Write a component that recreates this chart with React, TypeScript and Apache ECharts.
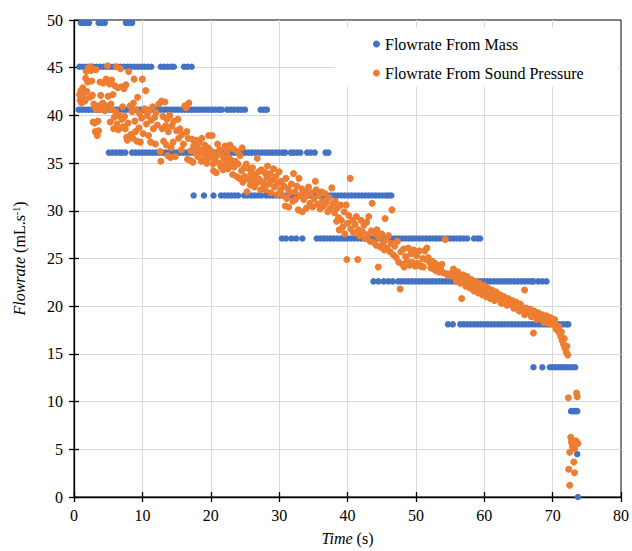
import React, { useEffect, useRef } from 'react';
import * as echarts from 'echarts';

const FONT = "'Liberation Serif', 'Times New Roman', serif";

const seriesNames = ['Flowrate From Mass', 'Flowrate From Sound Pressure'];

// Quantised levels of the mass-derived flowrate (mL/s)
const massLevels = [49.7, 45.1, 40.6, 36.1, 31.6, 27.1, 22.6, 18.1, 13.6, 9.0, 4.5, 0];

// Times (s) at which each level was recorded
const massTimes: number[][] = [
  [1.0, 1.4, 1.8, 2.2, 3.6, 4.0, 4.5, 7.6, 8.0, 8.5],
  [0.8, 1.3, 1.8, 2.3, 2.8, 3.3, 3.8, 4.3, 4.8, 5.3, 5.8, 6.3, 6.8, 7.3, 7.8, 8.3, 8.8, 9.3, 9.8, 10.3, 10.8, 11.3,
    12.7, 13.2, 13.7, 14.2, 14.6, 16.1, 16.6, 17.2],
  [0.7, 1.2, 1.7, 2.2, 2.7, 3.2, 3.7, 4.2, 4.7, 5.2, 5.7, 6.2, 6.7, 7.2, 7.7, 8.2, 8.7, 9.2, 9.7, 10.2, 10.7, 11.2,
    11.7, 12.2, 12.7, 13.2, 13.7, 14.2, 14.7, 15.2, 15.7, 16.2, 16.7, 17.2, 17.7, 18.2, 18.7, 19.2, 19.7, 20.2, 20.7,
    21.2, 21.6, 22.4, 22.9, 23.4, 24.0, 24.5, 25.0, 27.3, 27.8, 28.2],
  [5.1, 5.6, 6.1, 6.6, 7.0, 7.5, 8.5, 9.0, 9.5, 10.0, 10.5, 11.0, 11.5, 12.0, 12.5, 13.0, 13.5, 14.0, 14.5, 15.0,
    15.5, 16.0, 16.5, 17.0, 17.5, 18.0, 18.5, 19.0, 19.5, 20.0, 20.5, 21.0, 21.5, 22.0, 22.5, 23.0, 23.5, 24.0, 24.5,
    25.0, 25.5, 26.0, 26.5, 27.0, 27.5, 28.0, 28.5, 29.0, 29.5, 30.0, 30.5, 30.9, 31.7, 32.1, 32.6, 33.1, 34.1, 34.6,
    35.2, 36.8, 37.2],
  [17.5, 19.0, 20.4, 21.5, 22.0, 22.5, 23.0, 23.5, 24.0, 24.9, 25.4, 25.9, 26.4, 26.9, 27.4, 28.1, 28.6, 29.1, 29.6,
    30.1, 30.6, 31.1, 31.6, 32.1, 32.6, 33.1, 33.6, 34.1, 34.6, 35.1, 35.6, 36.1, 36.6, 37.1, 37.6, 38.1, 38.6, 39.1,
    39.6, 40.1, 40.6, 41.1, 41.6, 42.1, 42.6, 43.1, 43.6, 44.1, 44.6, 45.1, 45.6, 46.0, 46.4],
  [30.4, 31.0, 31.8, 32.5, 33.4, 35.5, 36.0, 36.5, 37.0, 37.5, 38.0, 38.5, 39.0, 39.5, 40.0, 40.5, 41.0, 41.5, 42.0,
    42.5, 43.0, 43.5, 44.0, 44.5, 45.0, 45.5, 46.0, 46.5, 47.0, 47.5, 48.0, 48.5, 49.0, 49.5, 50.0, 50.5, 51.0, 51.5,
    52.0, 52.5, 53.0, 53.5, 54.0, 54.5, 55.0, 55.5, 56.0, 56.5, 57.0, 57.5, 58.5, 59.0, 59.4],
  [43.8, 44.5, 45.3, 46.0, 46.6, 47.4, 47.9, 48.4, 48.9, 49.4, 49.9, 50.4, 50.9, 51.4, 51.9, 52.4, 52.9, 53.4, 53.9,
    54.4, 54.9, 55.4, 55.9, 56.4, 56.9, 57.4, 57.9, 58.4, 58.9, 59.4, 59.9, 60.4, 60.9, 61.4, 61.9, 62.4, 62.9, 63.4,
    63.9, 64.4, 64.9, 65.4, 65.9, 66.4, 66.9, 67.2, 67.9, 68.5, 69.1],
  [54.7, 55.4, 56.5, 57.0, 57.5, 58.0, 58.5, 59.0, 59.5, 60.0, 60.5, 61.0, 61.5, 62.0, 62.5, 63.0, 63.5, 64.0, 64.5,
    65.0, 65.5, 66.0, 66.5, 67.0, 67.5, 68.0, 68.5, 69.0, 69.5, 70.0, 70.5, 71.0, 71.5, 72.0, 72.3],
  [67.2, 68.5, 69.6, 70.0, 70.4, 70.8, 71.2, 71.6, 72.0, 72.4, 72.8, 73.3],
  [72.7, 73.0, 73.3, 73.6],
  [73.6],
  [73.7],
];

// Flowrate from sound pressure: [time (s), flowrate (mL/s)]
const soundPressure: [number, number][] = [
  [0.8, 42.2], [0.9, 41.6], [1.0, 42.6], [1.1, 41.3], [1.2, 42.0], [1.3, 42.9], [1.4, 41.8], [1.5, 42.4], [1.6, 41.5],
  [1.7, 43.9], [1.8, 44.6], [1.9, 42.5], [2.0, 43.5], [2.1, 45.0], [2.2, 44.9], [2.3, 41.9], [2.4, 45.1], [2.5, 44.7],
  [2.6, 43.6], [2.7, 42.1], [2.8, 39.3], [2.9, 41.2], [3.0, 39.2], [3.0, 40.9], [3.1, 38.3], [3.2, 44.8], [3.3, 40.6],
  [3.4, 37.9], [3.5, 39.4], [3.6, 38.4], [3.7, 41.0], [3.8, 43.5], [3.9, 42.1], [4.0, 40.7],
  [4.2, 41.3], [4.3, 43.4], [4.5, 40.5], [4.6, 41.0], [4.7, 43.8], [4.9, 45.2], [5.0, 42.0], [5.1, 40.8], [5.2, 43.3],
  [5.3, 39.3], [5.4, 41.2], [5.5, 43.7], [5.6, 40.6], [5.7, 42.2], [5.8, 38.6], [5.9, 39.8], [6.0, 43.1], [6.1, 40.4],
  [6.2, 45.1], [6.3, 39.1], [6.4, 42.9], [6.5, 38.5], [6.6, 40.0], [6.8, 44.9], [6.9, 43.0], [7.0, 39.6], [7.1, 40.9],
  [7.2, 38.8], [7.3, 42.8], [7.4, 39.9], [7.5, 38.6], [7.6, 43.2], [7.7, 37.7], [7.8, 37.4], [7.9, 39.2], [8.0, 44.6],
  [8.2, 41.0], [8.3, 38.0], [8.5, 40.4], [8.6, 37.6], [8.7, 41.3], [8.8, 43.8], [8.9, 39.4], [9.0, 38.3], [9.1, 40.6],
  [9.2, 37.3], [9.3, 41.9], [9.5, 38.7], [9.6, 40.2], [9.7, 37.2], [9.9, 39.7], [10.0, 43.8], [10.1, 38.1], [10.3, 40.7],
  [10.5, 42.6], [10.6, 39.1], [10.7, 40.0], [10.9, 37.9], [11.0, 40.5], [11.2, 37.2], [11.3, 39.5], [11.5, 40.9],
  [11.6, 38.6], [11.8, 39.8], [11.9, 37.0], [12.0, 40.3],
  [12.2, 39.0], [12.4, 41.2], [12.6, 36.2], [12.7, 35.2], [12.8, 41.5], [12.9, 38.6], [13.0, 39.9], [13.1, 37.3],
  [13.3, 41.4], [13.4, 38.9], [13.5, 36.9], [13.6, 39.6], [13.7, 35.8], [13.8, 38.3], [14.0, 40.0], [14.1, 35.6],
  [14.2, 36.6], [14.3, 38.9], [14.5, 37.2], [14.6, 39.4], [14.8, 35.7], [15.0, 38.4], [15.2, 39.6], [15.3, 37.6],
  [15.5, 38.6], [15.7, 36.4], [15.8, 38.0], [16.0, 37.0], [16.2, 41.0], [16.4, 40.8], [16.5, 38.3], [16.6, 35.4],
  [16.7, 37.6], [16.8, 41.3], [17.0, 35.3], [17.1, 36.3],
  [17.3, 37.5], [17.4, 35.1], [17.5, 36.8], [17.7, 37.0], [17.8, 36.0], [17.9, 37.4], [18.1, 35.7], [18.2, 36.5],
  [18.3, 37.2], [18.5, 36.1], [18.6, 35.2], [18.7, 37.6], [18.9, 36.4], [19.0, 35.4], [19.1, 36.9], [19.3, 36.0],
  [19.4, 35.0], [19.6, 36.6], [19.7, 37.9], [19.8, 35.6], [20.0, 36.3], [20.2, 37.9], [20.3, 34.9], [20.4, 34.2],
  [20.5, 36.0], [20.6, 35.3], [20.8, 34.0], [20.9, 35.8], [21.0, 37.0], [21.2, 35.0], [21.3, 36.4], [21.5, 34.6],
  [21.6, 35.9], [21.8, 34.3], [21.9, 35.5],
  [22.1, 36.8], [22.2, 35.0], [22.4, 36.3], [22.5, 34.4], [22.6, 35.6], [22.8, 36.9], [22.9, 34.8], [23.0, 35.3],
  [23.2, 33.8], [23.3, 36.5], [23.4, 34.6], [23.6, 35.2], [23.8, 33.6], [23.9, 36.2], [24.0, 34.9], [24.2, 33.4],
  [24.3, 35.8], [24.5, 34.2], [24.6, 36.6], [24.7, 33.0], [24.9, 34.5], [25.0, 33.6], [25.2, 34.9], [25.3, 32.0],
  [25.5, 33.3], [25.6, 34.4], [25.8, 32.7], [25.9, 33.9],
  [26.1, 34.5], [26.2, 33.2], [26.4, 32.5], [26.5, 33.8], [26.7, 32.9], [26.8, 35.5], [27.0, 34.1], [27.1, 33.3],
  [27.3, 32.2], [27.4, 34.3], [27.6, 33.0], [27.8, 32.6], [27.9, 34.0], [28.0, 32.2], [28.2, 33.5], [28.3, 34.7],
  [28.5, 32.8], [28.7, 33.9], [28.8, 31.9], [29.0, 33.2], [29.2, 34.4], [29.3, 32.5], [29.5, 33.6], [29.7, 31.7],
  [29.8, 32.9], [30.0, 34.1], [30.2, 32.2], [30.3, 33.1], [30.5, 31.6], [30.7, 32.6], [30.9, 30.5], [31.0, 33.4],
  [31.1, 31.3], [31.3, 32.3], [31.4, 30.4], [31.6, 31.9], [31.8, 32.8],
  [32.0, 31.0], [32.1, 33.9], [32.3, 32.0], [32.4, 31.2], [32.6, 32.6], [32.8, 30.1], [32.9, 33.4], [33.1, 31.6],
  [33.3, 32.3], [33.4, 29.9], [33.6, 31.2], [33.8, 32.0], [34.0, 30.3], [34.1, 31.6], [34.3, 32.5], [34.5, 30.8],
  [34.7, 31.9], [34.9, 30.4], [35.1, 31.3], [35.3, 33.1], [35.4, 32.2], [35.6, 30.7], [35.8, 31.6], [36.0, 30.2],
  [36.2, 32.0], [36.3, 31.0], [36.5, 30.5], [36.7, 31.8], [36.9, 30.9], [37.1, 29.9], [37.3, 31.4], [37.5, 30.3],
  [37.7, 32.4], [37.9, 30.8],
  [38.1, 29.8], [38.2, 31.0], [38.4, 28.9], [38.5, 30.3], [38.7, 29.3], [38.8, 28.0], [39.0, 30.6], [39.1, 29.0],
  [39.3, 28.3], [39.5, 29.9], [39.6, 27.6], [39.8, 30.6], [39.9, 24.9], [40.0, 28.7], [40.2, 29.5], [40.4, 33.4],
  [40.5, 28.1], [40.7, 29.0], [40.9, 27.7], [41.1, 28.6], [41.3, 29.4], [41.5, 24.9], [41.6, 28.0], [41.8, 27.4],
  [42.0, 29.0], [42.2, 27.8], [42.4, 28.5], [42.6, 27.1], [42.8, 28.8], [43.0, 27.5], [43.1, 29.4], [43.3, 26.8],
  [43.5, 27.9], [43.6, 30.8], [43.8, 26.7], [44.0, 27.6],
  [44.2, 26.4], [44.3, 28.0], [44.5, 24.1], [44.6, 27.2], [44.8, 26.2], [45.0, 27.6], [45.2, 26.6], [45.4, 25.9],
  [45.5, 29.2], [45.6, 27.0], [45.8, 26.1], [46.0, 27.4], [46.2, 25.7], [46.4, 26.6], [46.5, 30.1], [46.7, 25.4],
  [46.9, 26.3], [47.1, 25.1], [47.3, 26.8], [47.5, 24.6], [47.7, 21.8], [47.8, 25.7], [48.0, 24.4], [48.2, 26.0],
  [48.3, 24.1], [48.5, 25.2], [48.7, 24.8], [48.9, 26.1], [49.1, 24.3], [49.3, 25.5], [49.5, 24.6], [49.7, 25.9],
  [49.9, 24.2],
  [50.1, 25.3], [50.3, 24.5], [50.5, 25.8], [50.7, 24.2], [50.9, 24.2], [51.0, 25.0], [51.1, 24.1], [51.3, 25.8],
  [51.5, 24.9], [51.6, 26.1], [51.8, 25.1], [52.0, 24.6], [52.2, 24.0], [52.4, 24.7], [52.6, 23.9], [52.8, 24.5],
  [53.0, 23.7], [53.2, 24.3], [53.4, 23.6], [53.6, 24.0], [53.8, 24.4], [54.0, 23.5], [54.3, 27.0], [54.5, 23.4],
  [54.7, 23.2], [55.0, 23.4], [55.2, 23.3],
  [55.4, 23.5], [55.6, 23.1], [55.8, 23.3], [56.0, 22.9], [56.2, 23.2], [56.4, 22.8], [56.7, 20.8], [56.6, 23.0],
  [56.8, 22.6], [57.0, 22.9], [57.2, 22.5], [57.4, 22.7], [57.6, 22.3], [57.8, 22.6], [58.0, 22.2], [58.2, 22.4],
  [58.4, 22.0], [58.6, 22.3], [58.8, 21.9], [59.0, 22.1], [59.2, 21.7], [59.4, 21.9], [59.6, 21.6], [59.8, 21.8],
  [60.0, 21.5], [60.2, 21.6], [60.4, 21.3], [60.6, 21.5], [60.8, 21.2], [61.0, 21.3], [61.2, 21.0], [61.4, 21.2],
  [61.6, 20.9], [61.8, 21.0],
  [55.5, 23.9], [56.1, 23.6], [56.9, 23.3], [57.5, 23.1], [58.1, 22.8], [58.7, 22.6], [59.3, 22.4], [59.9, 22.2],
  [60.5, 21.9], [61.1, 21.7], [61.7, 21.5], [55.9, 22.6], [56.5, 22.4], [57.3, 22.1], [57.9, 21.9], [58.5, 21.6],
  [59.1, 21.4], [59.7, 21.2], [60.3, 21.0], [60.9, 20.8], [61.5, 20.6],
  [62.0, 20.8], [62.2, 20.9], [62.4, 20.7], [62.6, 20.6], [62.8, 20.7], [63.0, 20.5], [63.2, 20.4], [63.4, 20.5],
  [63.6, 20.3], [63.8, 20.2], [64.0, 20.3], [64.2, 20.1], [64.4, 20.2], [64.6, 20.0], [64.8, 20.1], [65.0, 19.9],
  [65.2, 19.8], [65.4, 19.6], [65.6, 19.5], [65.9, 21.7], [65.8, 19.5], [66.0, 19.4], [66.2, 19.5], [66.4, 19.3],
  [66.6, 19.4], [66.8, 19.2], [67.0, 19.3], [67.2, 17.2], [67.2, 19.1], [67.4, 19.0], [67.6, 19.0], [67.8, 18.9],
  [68.0, 18.8], [68.2, 18.9], [68.4, 18.7], [68.6, 18.8], [68.8, 18.6], [69.0, 18.7], [69.2, 18.5], [69.4, 18.6],
  [69.6, 18.4], [69.8, 18.5], [70.0, 18.3], [70.2, 18.2], [70.4, 18.0], [70.6, 17.8], [70.8, 17.5], [71.0, 17.2],
  [71.2, 16.8], [71.4, 16.4], [71.6, 16.0], [71.8, 15.6], [72.0, 15.2], [72.2, 14.9],
  [62.3, 21.2], [62.9, 21.0], [63.5, 20.8], [64.1, 20.6], [64.7, 20.4], [65.3, 20.2], [66.1, 19.8], [66.7, 19.7],
  [67.3, 19.5], [67.9, 19.3], [68.5, 19.1], [69.1, 19.0], [69.7, 18.8], [70.3, 18.6], [62.5, 20.3], [63.3, 20.1],
  [64.3, 19.8], [65.1, 19.5], [65.9, 19.1], [66.9, 18.9], [67.7, 18.6], [68.7, 18.3], [69.5, 18.1], [70.5, 17.6],
  [70.9, 17.9], [71.3, 17.3], [71.7, 16.6], [72.1, 15.8],
  [72.3, 10.4], [73.5, 10.9], [73.6, 10.5], [72.65, 6.25], [72.75, 5.75], [72.9, 5.3], [73.7, 5.6], [72.5, 4.7],
  [73.2, 5.05], [73.1, 3.66], [72.35, 2.9], [73.2, 2.55], [72.5, 1.24], [73.4, 5.9],
];

const xMin = 0, xMax = 80, xStep = 10;
const yMin = 0, yMax = 50, yStep = 5;

export default function App() {
  const ref = useRef<HTMLDivElement>(null);

  useEffect(() => {
    if (!ref.current) return;
    const chart = echarts.init(ref.current, null, { renderer: 'svg' });
    const massData: [number, number][] = [];
    massLevels.forEach((lvl, i) => {
      massTimes[i].forEach((t) => massData.push([t, lvl]));
    });

    const tickStyle = { color: '#000', width: 1.3 };
    const labelStyle = { color: '#000', fontFamily: FONT, fontSize: 16 };

    chart.setOption({
      animation: false,
      backgroundColor: '#fff',
      grid: {
        left: 74, right: 9, top: 20, bottom: 49,
        show: true, borderColor: '#000', borderWidth: 1, backgroundColor: 'transparent',
      },
      legend: {
        orient: 'vertical',
        left: 335, top: 28,
        padding: [8, 34, 6, 38],
        backgroundColor: '#fff',
        itemWidth: 7, itemHeight: 7, itemGap: 13,
        icon: 'circle',
        align: 'left',
        textStyle: { color: '#000', fontFamily: FONT, fontSize: 16 },
        data: seriesNames,
      },
      xAxis: [
        {
          type: 'value', min: xMin, max: xMax, interval: xStep, position: 'bottom',
          axisLine: { show: true, onZero: false, lineStyle: tickStyle },
          axisTick: { show: true, length: 5, lineStyle: tickStyle },
          axisLabel: { ...labelStyle, margin: 10 },
          splitLine: { show: true, showMinLine: false, showMaxLine: false, lineStyle: { color: '#d9d9d9', width: 1 } },
          name: '{i|Time} (s)',
          nameLocation: 'middle', nameGap: 33,
          nameTextStyle: {
            ...labelStyle,
            rich: { i: { ...labelStyle, fontStyle: 'italic' } },
          },
        },
        {
          type: 'value', min: xMin, max: xMax, interval: xStep, position: 'bottom',
          axisLine: { show: false, onZero: false },
          axisTick: { show: true, inside: true, length: 5, lineStyle: tickStyle },
          axisLabel: { show: false },
          splitLine: { show: false },
        },
      ],
      yAxis: [
        {
          type: 'value', min: yMin, max: yMax, interval: yStep, position: 'left',
          axisLine: { show: true, onZero: false, lineStyle: tickStyle },
          axisTick: { show: true, length: 5, lineStyle: tickStyle },
          axisLabel: { ...labelStyle, margin: 11 },
          splitLine: { show: true, showMinLine: false, showMaxLine: false, lineStyle: { color: '#d9d9d9', width: 1 } },
          name: '{i|Flowrate} (mL.s{sup|-1})',
          nameLocation: 'middle', nameGap: 47, nameRotate: 90,
          nameTextStyle: {
            ...labelStyle,
            rich: {
              i: { ...labelStyle, fontStyle: 'italic' },
              sup: { ...labelStyle, fontSize: 10, verticalAlign: 'top' },
            },
          },
        },
        {
          type: 'value', min: yMin, max: yMax, interval: yStep, position: 'left',
          axisLine: { show: false, onZero: false },
          axisTick: { show: true, inside: true, length: 5, lineStyle: tickStyle },
          axisLabel: { show: false },
          splitLine: { show: false },
        },
      ],
      series: [
        {
          name: seriesNames[0], type: 'scatter', xAxisIndex: 0, yAxisIndex: 0,
          data: massData, symbolSize: 6.5,
          itemStyle: { color: '#4472C4', opacity: 1 },
        },
        {
          name: seriesNames[1], type: 'scatter', xAxisIndex: 0, yAxisIndex: 0,
          data: soundPressure, symbolSize: 7,
          itemStyle: { color: '#ED7D31', opacity: 1 },
        },
      ],
    });
    return () => chart.dispose();
  }, []);

  return (
    <div
      ref={ref}
      style={{ position: 'absolute', left: 0, top: 0, width: 632, height: 551 }}
    />
  );
}
